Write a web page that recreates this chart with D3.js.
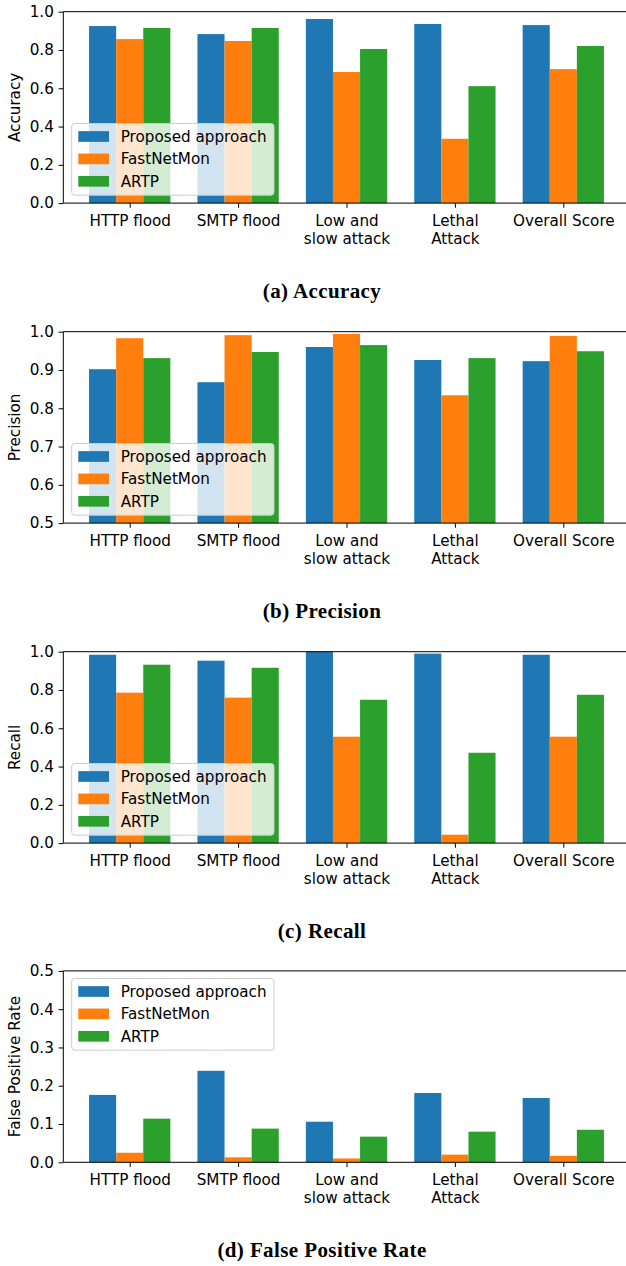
<!DOCTYPE html>
<html>
<head>
<meta charset="utf-8">
<script src="https://cdn.jsdelivr.net/npm/d3@7"></script>
<style>
  html, body { margin: 0; padding: 0; background: #fff; }
  svg { display: block; }
</style>
</head>
<body>
<svg id="chart" width="626" height="1266"></svg>
<script>
// ---------- DATA ----------
const categories = ["HTTP flood", "SMTP flood", "Low and\nslow attack", "Lethal\nAttack", "Overall Score"];
const seriesNames = ["Proposed approach", "FastNetMon", "ARTP"];
const seriesColors = ["#1f77b4", "#ff7f0e", "#2ca02c"];

const accuracyProposed = [0.925, 0.883, 0.962, 0.936, 0.930];
const accuracyFastNetMon = [0.857, 0.847, 0.685, 0.336, 0.700];
const accuracyARTP = [0.915, 0.915, 0.805, 0.611, 0.821];

const precisionProposed = [0.902, 0.868, 0.960, 0.926, 0.923];
const precisionFastNetMon = [0.983, 0.991, 0.994, 0.834, 0.989];
const precisionARTP = [0.931, 0.947, 0.965, 0.931, 0.949];

const recallProposed = [0.984, 0.953, 1.000, 0.990, 0.984];
const recallFastNetMon = [0.786, 0.760, 0.556, 0.044, 0.556];
const recallARTP = [0.932, 0.916, 0.749, 0.472, 0.775];

const fprProposed = [0.176, 0.239, 0.106, 0.181, 0.168];
const fprFastNetMon = [0.025, 0.013, 0.010, 0.020, 0.017];
const fprARTP = [0.114, 0.088, 0.067, 0.080, 0.085];

const accuracyTicks = [0.0, 0.2, 0.4, 0.6, 0.8, 1.0];
const precisionTicks = [0.5, 0.6, 0.7, 0.8, 0.9, 1.0];
const recallTicks = [0.0, 0.2, 0.4, 0.6, 0.8, 1.0];
const fprTicks = [0.0, 0.1, 0.2, 0.3, 0.4, 0.5];

const panels = [
  { ylabel: "Accuracy", caption: "(a) Accuracy", domain: [0, 1], ticks: accuracyTicks,
    values: [accuracyProposed, accuracyFastNetMon, accuracyARTP], legend: "lower" },
  { ylabel: "Precision", caption: "(b) Precision", domain: [0.5, 1], ticks: precisionTicks,
    values: [precisionProposed, precisionFastNetMon, precisionARTP], legend: "lower" },
  { ylabel: "Recall", caption: "(c) Recall", domain: [0, 1], ticks: recallTicks,
    values: [recallProposed, recallFastNetMon, recallARTP], legend: "lower" },
  { ylabel: "False Positive Rate", caption: "(d) False Positive Rate", domain: [0, 0.5], ticks: fprTicks,
    values: [fprProposed, fprFastNetMon, fprARTP], legend: "upper" }
];

// ---------- LAYOUT ----------
const svg = d3.select("#chart");
svg.append("rect").attr("width", 626).attr("height", 1266).attr("fill", "#fff");

const axLeft = 63.3;
const axRight = 629.7;
const axTops = [11.7, 331.7, 651.7, 970.9];
const axH = 191.4;
const barW = 0.25;
const fontSans = "'DejaVu Sans', sans-serif";
const fs = 15.2;

const x = d3.scaleLinear().domain([-0.6125, 4.6125]).range([axLeft, axRight]);

panels.forEach((p, pi) => {
  const top = axTops[pi];
  const bottom = top + axH;
  const y = d3.scaleLinear().domain(p.domain).range([bottom, top]);
  const g = svg.append("g");

  // bars
  p.values.forEach((vals, si) => {
    g.selectAll(null).data(vals).enter().append("rect")
      .attr("x", (d, i) => x(i + (si - 1) * barW - barW / 2))
      .attr("width", x(barW) - x(0))
      .attr("y", d => y(d))
      .attr("height", d => y(p.domain[0]) - y(d))
      .attr("fill", seriesColors[si]);
  });

  // y axis
  const yAxis = d3.axisLeft(y).tickValues(p.ticks).tickFormat(d3.format(".1f")).tickSize(4.7).tickPadding(4.8);
  const ya = g.append("g").attr("transform", `translate(${axLeft},0)`).call(yAxis);
  ya.select(".domain").remove();
  ya.selectAll("line").attr("stroke", "#000").attr("stroke-width", 1);
  ya.selectAll("text").attr("font-family", fontSans).attr("font-size", fs).attr("fill", "#000");

  // x axis
  const xAxis = d3.axisBottom(x).tickValues(d3.range(categories.length)).tickFormat("").tickSize(4.7);
  const xa = g.append("g").attr("transform", `translate(0,${bottom})`).call(xAxis);
  xa.select(".domain").remove();
  xa.selectAll("line").attr("stroke", "#000").attr("stroke-width", 1);
  xa.selectAll(".tick").each(function(d) {
    const lines = categories[d].split("\n");
    const t = d3.select(this).append("text")
      .attr("text-anchor", "middle")
      .attr("font-family", fontSans).attr("font-size", fs).attr("fill", "#000");
    lines.forEach((ln, li) => {
      t.append("tspan").attr("x", 0).attr("y", 23 + li * 17.5).text(ln);
    });
  });

  // spines
  g.append("line").attr("x1", axLeft).attr("x2", axLeft).attr("y1", top).attr("y2", bottom)
    .attr("stroke", "#000").attr("stroke-width", 1);
  g.append("line").attr("x1", axLeft).attr("x2", axRight).attr("y1", bottom).attr("y2", bottom)
    .attr("stroke", "#000").attr("stroke-width", 1);
  g.append("line").attr("x1", axLeft).attr("x2", axRight).attr("y1", top).attr("y2", top)
    .attr("stroke", "#000").attr("stroke-width", 1);
  g.append("line").attr("x1", axRight).attr("x2", axRight).attr("y1", top).attr("y2", bottom)
    .attr("stroke", "#000").attr("stroke-width", 1);

  // y label
  g.append("text")
    .attr("transform", `translate(20,${(top + bottom) / 2}) rotate(-90)`)
    .attr("text-anchor", "middle")
    .attr("font-family", fontSans).attr("font-size", fs).attr("fill", "#000")
    .text(p.ylabel);

  // legend
  const lgW = 202.3, lgH = 71.7, lgX = 71.7;
  const lgY = p.legend === "lower" ? bottom - 7.9 - lgH : top + 7.6;
  const lg = g.append("g").attr("transform", `translate(${lgX},${lgY})`);
  lg.append("rect").attr("width", lgW).attr("height", lgH).attr("rx", 3).attr("ry", 3)
    .attr("fill", "#fff").attr("fill-opacity", 0.8)
    .attr("stroke", "#cccccc").attr("stroke-width", 1);
  seriesNames.forEach((name, si) => {
    const cy = 13 + si * 22.4;
    lg.append("rect").attr("x", 6.6).attr("y", cy - 5.35).attr("width", 30.7).attr("height", 10.7)
      .attr("fill", seriesColors[si]);
    lg.append("text").attr("x", 49).attr("y", cy).attr("dy", "0.36em")
      .attr("font-family", fontSans).attr("font-size", fs).attr("fill", "#000")
      .text(name);
  });

  // caption
  svg.append("text")
    .attr("x", 322).attr("y", bottom + 95)
    .attr("text-anchor", "middle")
    .attr("font-family", "'Liberation Serif', serif").attr("font-weight", "bold")
    .attr("font-size", 21).attr("letter-spacing", 0.4).attr("fill", "#000")
    .text(p.caption);
});
</script>
</body>
</html>
